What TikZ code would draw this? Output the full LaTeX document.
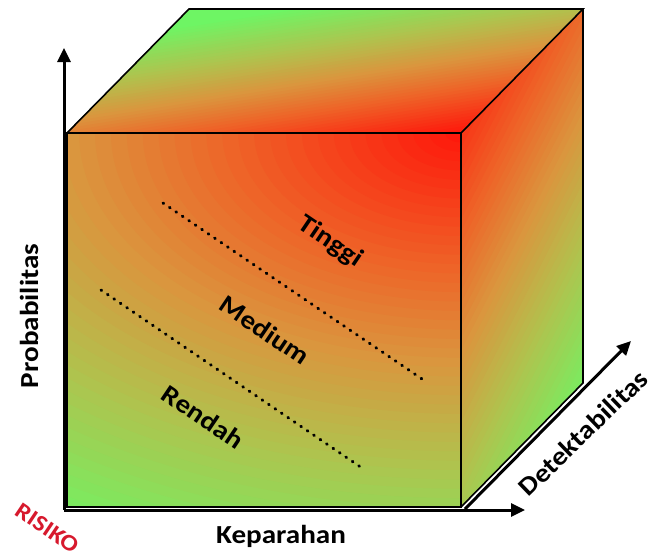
\documentclass[tikz,border=0pt]{standalone}
\usepackage{fontspec}
\setmainfont{Carlito}
\usepackage{graphicx}
\usepackage{xcolor}
\usetikzlibrary{
    arrows.meta
}

% risk colours, from high (red) to low (green)
\definecolor{rk0}{RGB}{255,20,10}
\definecolor{rk1}{RGB}{238,100,40}
\definecolor{rk2}{RGB}{218,150,62}
\definecolor{rk3}{RGB}{175,195,78}
\definecolor{rk4}{RGB}{110,245,100}
\definecolor{riskred}{RGB}{215,25,45}

% colour 'bandc' for a risk level between 0 (red) and 1 (green)
\newcommand{\setriskcolor}[1]{%
  \pgfmathsetmacro{\rt}{#1}%
  \ifdim\rt pt<0.3pt
    \pgfmathsetmacro{\rp}{100*\rt/0.3}\colorlet{bandc}{rk1!\rp!rk0}%
  \else\ifdim\rt pt<0.5pt
    \pgfmathsetmacro{\rp}{100*(\rt-0.3)/0.2}\colorlet{bandc}{rk2!\rp!rk1}%
  \else\ifdim\rt pt<0.72pt
    \pgfmathsetmacro{\rp}{100*(\rt-0.5)/0.22}\colorlet{bandc}{rk3!\rp!rk2}%
  \else
    \pgfmathsetmacro{\rp}{100*(\rt-0.72)/0.28}\colorlet{bandc}{rk4!\rp!rk3}%
  \fi\fi\fi}

\newcommand{\wide}[1]{\scalebox{1.12}[1]{#1}}

\begin{document}
\begin{tikzpicture}[
    x=1pt, y=-1pt,
    lbl/.style={
        font=\fontsize{26}{30}\selectfont\bfseries,
        inner sep=0pt
    },
    edge/.style={
        draw=black,
        line width=1.6pt
    },
    axis/.style={
        -{Triangle[length=14pt,width=13pt]},
        line width=3pt,
        draw=black
    },
    zoneline/.style={
        draw=black,
        line width=3pt,
        line cap=round,
        dash pattern=on 0.8pt off 7pt
    }
]
\useasboundingbox[fill=white] (0,0) rectangle (653,558);

% =========================================================
% Cube corners
% =========================================================
\coordinate (F1) at (67,133);
\coordinate (F2) at (461,133);
\coordinate (F3) at (461,507);
\coordinate (F4) at (67,507);
\coordinate (B1) at (189,9);
\coordinate (B2) at (583,9);
\coordinate (B3) at (583,383);

% =========================================================
% Faces (colour bands, red at the hot corner)
% =========================================================
\begin{scope}
\clip (F1) -- (F2) -- (F3) -- (F4) -- cycle;
\fill[rk4] (F1) -- (F2) -- (F3) -- (F4) -- cycle;
\foreach \i in {50,49,...,1} {
    \setriskcolor{\i/50}
    \fill[bandc] (F2) ellipse ({15.912*\i} and {9.36*\i});
}
\end{scope}

\begin{scope}
\clip (F1) -- (B1) -- (B2) -- (F2) -- cycle;
\fill[rk4] (F1) -- (B1) -- (B2) -- (F2) -- cycle;
\begin{scope}[shift={(F2)}, rotate=99]
\foreach \i in {50,49,...,0} {
    \setriskcolor{\i/50}
    \fill[bandc] (-800,-800) rectangle ({3*\i+0.3},800);
}
\end{scope}
\end{scope}

\begin{scope}
\clip (F2) -- (B2) -- (B3) -- (F3) -- cycle;
\fill[rk4] (F2) -- (B2) -- (B3) -- (F3) -- cycle;
\begin{scope}[shift={(430,125)}, rotate=-27]
\foreach \i in {50,49,...,0} {
    \setriskcolor{\i/50}
    \fill[bandc] (-800,-800) rectangle ({5.4*\i+0.3},800);
}
\end{scope}
\end{scope}

\draw[edge] (F1) -- (F2) -- (F3) -- (F4) -- cycle;
\draw[edge] (F1) -- (B1) -- (B2) -- (F2);
\draw[edge] (B2) -- (B3) -- (F3);

% =========================================================
% Zone borders and labels
% =========================================================
\coordinate (hiA) at (163,203);
\coordinate (hiB) at (425,381);
\coordinate (loA) at (101,290);
\coordinate (loB) at (362,468);
\draw[zoneline] (hiA) -- (hiB);
\draw[zoneline] (loA) -- (loB);

\node[lbl, rotate=-34] (tinggi) at (330,242) {\wide{Tinggi}};
\node[lbl, rotate=-34] (medium) at (265,330) {\wide{Medium}};
\node[lbl, rotate=-34] (rendah) at (203,417) {\wide{Rendah}};

% =========================================================
% Axes
% =========================================================
\coordinate (origin) at (64,510);
\coordinate (ytip) at (64,48);
\coordinate (xtip) at (525,510);
\coordinate (zstart) at (465,509);
\coordinate (ztip) at (631,341);

\draw[axis] (origin) -- (ytip);
\draw[axis] (origin) -- (xtip);
\draw[axis] (zstart) -- (ztip);

\node[lbl, rotate=90, anchor=base] (prob) at (38,316) {\wide{Probabilitas}};
\node[lbl, anchor=base] (kep) at (281,543) {\wide{Keparahan}};
\node[lbl, rotate=44] (detek) at (583,433) {\wide{Detektabilitas}};
\node[lbl, rotate=-34, text=riskred, font=\fontsize{23}{26}\selectfont\bfseries] (risiko) at (47,528) {\wide{RISIKO}};

\end{tikzpicture}
\end{document}
